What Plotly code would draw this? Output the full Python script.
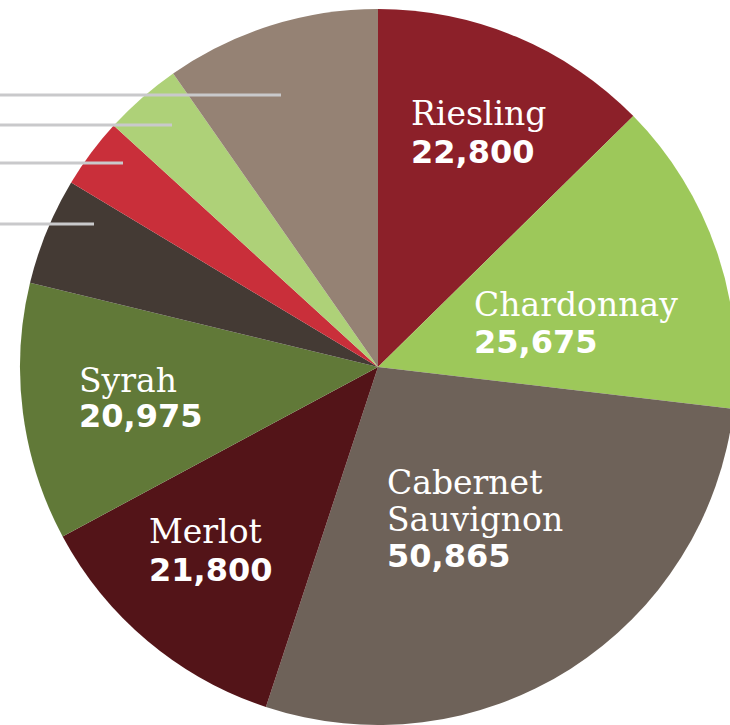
import plotly.graph_objects as go

# Data (clockwise from 12 o'clock)
varieties = ["Riesling", "Chardonnay", "Cabernet Sauvignon", "Merlot", "Syrah",
             "Other A", "Other B", "Other C", "Other D"]
acres = [22800, 25675, 50865, 21800, 20975, 8720, 5710, 6360, 17490]
colors = ["#8C2029", "#9DC85A", "#6E6259", "#531418", "#617938",
          "#443A34", "#C92F3A", "#AED178", "#958274"]

# Labels shown on the chart: name lines, left x px, name line y px list, number y px
shown = {
    "Riesling": (["Riesling"], 410, [113], 152),
    "Chardonnay": (["Chardonnay"], 473, [304], 342),
    "Cabernet Sauvignon": (["Cabernet", "Sauvignon"], 386, [482, 519], 556),
    "Merlot": (["Merlot"], 148, [531], 570),
    "Syrah": (["Syrah"], 78, [380], 416),
}

W, H = 756, 725

fig = go.Figure()
fig.add_trace(go.Pie(
    labels=varieties, values=acres,
    marker=dict(colors=colors, line=dict(width=0)),
    sort=False, direction="clockwise", rotation=0,
    textinfo="none", hoverinfo="label+value",
    domain=dict(x=[0, 1], y=[0, 0.9876]),
    showlegend=False,
))

name_font = dict(family="DejaVu Serif", size=33, color="white")
num_font = dict(family="DejaVu Sans", size=32, color="white")

for v, val in zip(varieties, acres):
    if v not in shown:
        continue
    lines, x, ys, yv = shown[v]
    for line, yn in zip(lines, ys):
        fig.add_annotation(x=x / W, y=1 - yn / H, xref="paper", yref="paper",
                           text=line, showarrow=False, xanchor="left", yanchor="middle",
                           align="left", font=name_font, borderpad=0)
    fig.add_annotation(x=x / W, y=1 - yv / H, xref="paper", yref="paper",
                       text="<b>{:,}</b>".format(val), showarrow=False,
                       xanchor="left", yanchor="middle", align="left", font=num_font,
                       borderpad=0)

# leader lines to off-canvas labels
leader_ends = [(281, 95), (172, 125), (123, 163), (94, 224)]
for x1, y in leader_ends:
    fig.add_shape(type="line", xref="paper", yref="paper",
                  x0=0, x1=x1 / W, y0=1 - y / H, y1=1 - y / H,
                  line=dict(color="#C9C9CB", width=3))

fig.update_layout(width=W, height=H, margin=dict(l=0, r=0, t=0, b=0),
                  paper_bgcolor="white", plot_bgcolor="white")

fig.write_html("out.html", config={"displayModeBar": False},
               post_script="document.body.style.overflow='hidden';document.body.style.margin='0';")
